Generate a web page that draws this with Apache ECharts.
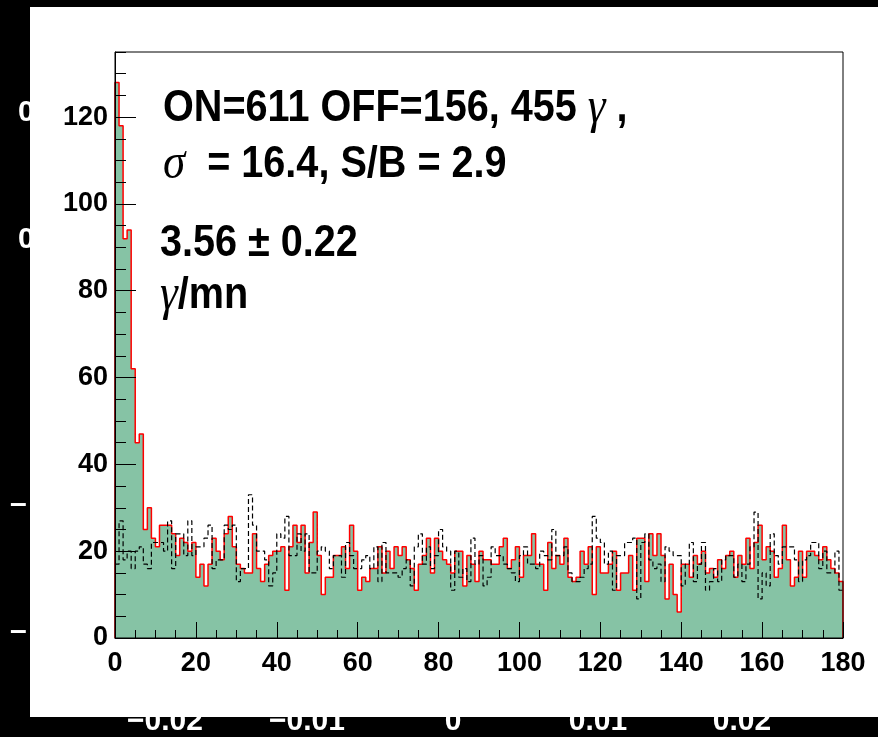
<!DOCTYPE html>
<html>
<head>
<meta charset="utf-8">
<script src="https://cdn.jsdelivr.net/npm/echarts@6/dist/echarts.min.js"></script>
<style>
	html, body { margin: 0; padding: 0; background: #000; }
	#chart { width: 878px; height: 737px; }
</style>
</head>
<body>
<div id="chart"></div>
<script>
	// bin edges 0..180, one count per unit bin
	const binCount = 180;
	// ON counts (filled, red outline)
	const onCounts = [
		128, 118, 92, 94, 62, 45, 47, 25, 30, 23, 21, 26, 26, 26, 24, 19, 23, 22, 20, 22,
		14, 17, 12, 17, 23, 20, 18, 24, 28, 21, 17, 16, 15, 15, 24, 16, 13, 17, 19, 20,
		20, 21, 11, 21, 26, 22, 26, 15, 22, 29, 19, 10, 14, 14, 19, 19, 21, 16, 26, 20,
		11, 14, 13, 16, 16, 21, 15, 20, 16, 21, 19, 21, 18, 16, 11, 17, 19, 23, 15, 23,
		20, 18, 17, 15, 20, 20, 12, 19, 17, 13, 20, 18, 18, 17, 17, 21, 23, 16, 18, 21,
		14, 19, 19, 24, 17, 17, 11, 22, 16, 19, 17, 23, 14, 13, 14, 20, 17, 21, 10, 21,
		15, 15, 17, 20, 11, 15, 15, 19, 11, 23, 23, 13, 24, 19, 24, 19, 9, 17, 10, 6,
		17, 17, 14, 19, 17, 20, 15, 16, 14, 18, 16, 19, 20, 14, 19, 17, 23, 16, 22, 26,
		18, 21, 20, 14, 16, 26, 18, 12, 14, 20, 14, 20, 20, 19, 18, 21, 18, 16, 15, 13
	];
	// OFF counts (dashed)
	const offCounts = [
		17, 27, 18, 20, 16, 20, 21, 17, 16, 22, 22, 22, 20, 27, 16, 24, 24, 19, 27, 19,
		21, 21, 23, 26, 16, 18, 18, 26, 25, 26, 13, 16, 16, 33, 26, 20, 20, 18, 12, 15,
		24, 23, 28, 19, 19, 24, 20, 24, 15, 15, 20, 21, 20, 16, 19, 19, 14, 22, 19, 16,
		16, 18, 19, 16, 21, 13, 22, 15, 15, 15, 14, 16, 18, 12, 21, 24, 17, 21, 16, 19,
		25, 21, 20, 11, 20, 14, 16, 13, 23, 17, 19, 12, 14, 21, 19, 19, 17, 16, 15, 13,
		19, 21, 17, 17, 16, 20, 19, 18, 25, 19, 19, 21, 15, 13, 13, 14, 16, 17, 28, 23,
		22, 17, 20, 11, 19, 19, 22, 22, 23, 9, 22, 24, 18, 16, 17, 13, 21, 20, 19, 19,
		12, 17, 22, 13, 17, 22, 11, 13, 16, 13, 18, 19, 19, 14, 17, 13, 17, 21, 29, 9,
		15, 12, 24, 19, 17, 21, 21, 21, 18, 13, 18, 19, 22, 22, 16, 20, 15, 15, 20, 11
	];
	const xTicks = [0, 20, 40, 60, 80, 100, 120, 140, 160, 180];
	const yMax = 135;
	// labels of the plot hidden behind the pad
	const backLabels = ["−0.02", "−0.01", "0", "0.01", "0.02"];
	const backLabelX = [165, 307, 453, 598, 742];

	// turn counts into step points: left edge of every bin, closed down to 0 at both ends
	function toSteps(counts, closed) {
		let pts = [];
		if (closed) pts.push([0, 0]);
		counts.forEach((v, i) => pts.push([i, v]));
		pts.push([binCount, counts[counts.length - 1]]);
		if (closed) pts.push([binCount, 0]);
		return pts;
	}

	const labelFont = {
		color: "#000",
		fontFamily: "Liberation Sans",
		fontWeight: "bold",
		fontSize: 27,
	};
	const bigFont = 'bold 44px "Liberation Sans"';
	const greekFont = 'italic 50px "Liberation Serif"';
	const backFont = 'bold 30px "Liberation Sans"';
	const rich = {
		b: { font: bigFont, fill: "#000" },
		g: { font: greekFont, fill: "#000" },
	};

	const chart = echarts.init(document.getElementById("chart"));

	let graphics = [
		// pieces of another plot peeking out behind the pad
		{ type: "text", x: 18, y: 113, z: 0, style: { text: "0", font: backFont, fill: "#fff", textVerticalAlign: "middle" } },
		{ type: "text", x: 18, y: 240, z: 0, style: { text: "0", font: backFont, fill: "#fff", textVerticalAlign: "middle" } },
		{ type: "text", x: 10, y: 505, z: 0, style: { text: "–", font: backFont, fill: "#fff", textVerticalAlign: "middle" } },
		{ type: "text", x: 10, y: 632, z: 0, style: { text: "–", font: backFont, fill: "#fff", textVerticalAlign: "middle" } },
	];
	backLabels.forEach((t, i) => {
		graphics.push({
			type: "text", x: backLabelX[i], y: 722, z: 0,
			style: { text: t, font: backFont, fill: "#fff", textAlign: "center", textVerticalAlign: "middle" },
		});
	});
	graphics.push(
		// white pad
		{ type: "rect", z: 1, shape: { x: 30, y: 7, width: 848, height: 710 }, style: { fill: "#fff" } },
		// annotations
		{
			type: "text", x: 163, y: 109, z: 10, scaleX: 0.9,
			style: { text: "{b|ON=611 OFF=156, 455 }{g|γ}{b| ,}", textVerticalAlign: "middle", rich: rich },
		},
		{
			type: "text", x: 163, y: 165, z: 10, scaleX: 0.9,
			style: { text: "{g|σ}{b|  = 16.4, S/B = 2.9}", textVerticalAlign: "middle", rich: rich },
		},
		{
			type: "text", x: 160, y: 244, z: 10, scaleX: 0.9,
			style: { text: "3.56 ± 0.22", font: bigFont, fill: "#000", textVerticalAlign: "middle" },
		},
		{
			type: "text", x: 160, y: 296, z: 10, scaleX: 0.9,
			style: { text: "{g|γ}{b|/mn}", textVerticalAlign: "middle", rich: rich },
		}
	);

	const option = {
		backgroundColor: "#000",
		animation: false,
		grid: {
			left: 115,
			top: 52,
			width: 728,
			height: 586,
			show: true,
			borderColor: "#000",
			borderWidth: 1,
			backgroundColor: "transparent",
			z: 4,
		},
		xAxis: {
			type: "value",
			min: 0,
			max: binCount,
			interval: 20,
			z: 5,
			axisLine: { show: true, lineStyle: { color: "#000", width: 1 } },
			axisTick: { inside: true, length: 16, lineStyle: { color: "#000" } },
			minorTick: { show: true, splitNumber: 4, length: 8, lineStyle: { color: "#000" } },
			splitLine: { show: false },
			axisLabel: Object.assign({ margin: 12, formatter: (v) => (xTicks.includes(v) ? String(v) : "") }, labelFont),
		},
		yAxis: [
			{
				type: "value",
				min: 0,
				max: yMax,
				interval: 20,
				z: 5,
				axisLine: { show: true, lineStyle: { color: "#000", width: 1 } },
				axisTick: { inside: true, length: 21, lineStyle: { color: "#000" } },
				splitLine: { show: false },
				axisLabel: Object.assign({ margin: 7, showMaxLabel: false }, labelFont),
			},
			{
				// minor ticks every 5
				type: "value",
				min: 0,
				max: yMax,
				interval: 5,
				position: "left",
				z: 5,
				axisLine: { show: false },
				axisTick: { inside: true, length: 11, lineStyle: { color: "#000" } },
				splitLine: { show: false },
				axisLabel: { show: false },
			},
		],
		graphic: graphics,
		series: [
			{
				name: "ON",
				type: "line",
				step: "end",
				symbol: "none",
				z: 2,
				data: toSteps(onCounts, true),
				lineStyle: { color: "#ff0000", width: 1.5 },
				areaStyle: { color: "#86c3a5", opacity: 1, origin: "start" },
			},
			{
				name: "OFF",
				type: "line",
				step: "end",
				symbol: "none",
				z: 3,
				data: toSteps(offCounts, false),
				lineStyle: { color: "#000", width: 1.2, type: [5, 3] },
			},
		],
	};

	chart.setOption(option);
</script>
</body>
</html>
